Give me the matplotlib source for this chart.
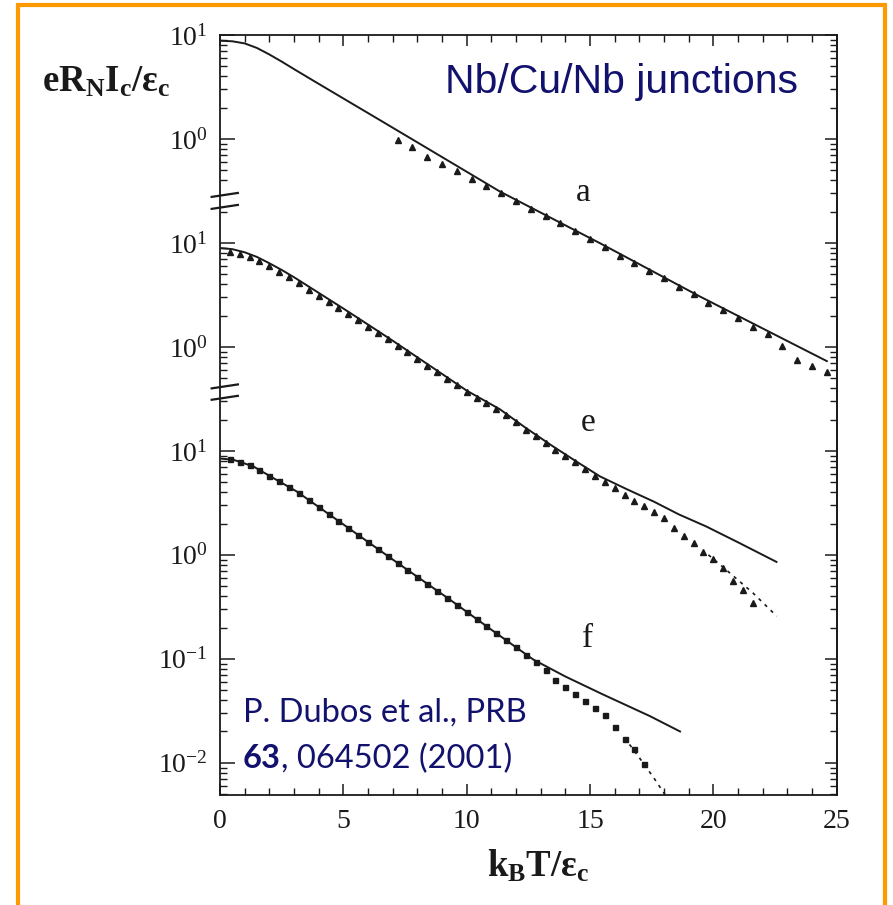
import matplotlib.pyplot as plt
import matplotlib.patches as patches
import matplotlib.transforms as transforms
from matplotlib.ticker import FixedLocator, MultipleLocator, LogLocator, NullFormatter
import numpy as np

plt.rcParams['font.family'] = 'Liberation Serif'
plt.rcParams['mathtext.fontset'] = 'custom'
plt.rcParams['mathtext.rm'] = 'Liberation Serif'
plt.rcParams['mathtext.it'] = 'Liberation Serif:italic'
plt.rcParams['mathtext.bf'] = 'Liberation Serif:bold'

# Curve a (shifted up by four decades)
a_theory_x = [0.07, 0.5, 1.0, 1.5, 2.0, 2.5, 3.0, 3.85, 5.2, 6.55, 8.18, 11.35, 15.4, 19.46, 24.6]
a_theory = [8.8, 8.7, 8.3, 7.5, 6.5, 5.55, 4.7, 3.56, 2.30, 1.486, 0.875, 0.312, 0.0995, 0.0305, 0.0073]
a_data_x = [7.2, 7.8, 8.4, 9.0, 9.6, 10.2, 10.8, 11.4, 12.0, 12.6, 13.2, 13.8, 14.4, 15.0, 15.6,
            16.2, 16.8, 17.4, 18.0, 18.6, 19.2, 19.8, 20.4, 21.0, 21.6, 22.2, 22.8, 23.4, 24.0, 24.6]
a_data = [0.98, 0.834, 0.672, 0.575, 0.488, 0.413, 0.350, 0.301, 0.255, 0.211, 0.182, 0.155, 0.131, 0.109, 0.091,
          0.0757, 0.064, 0.0543, 0.0459, 0.0381, 0.0322, 0.0267, 0.0224, 0.0189, 0.0157, 0.0134, 0.0103, 0.0075, 0.0066, 0.0057]

# Curve e (shifted up by two decades)
e_theory_x = [0.07, 0.5, 1.0, 1.5, 2.0, 2.5, 3.0, 4.0, 5.0, 6.0, 7.0, 8.0, 9.0, 10.0, 11.35, 12.4,
              13.5, 14.5, 15.4, 16.5, 17.6, 18.6, 19.7, 21.0, 22.56]
e_theory = [8.91, 8.71, 8.13, 7.33, 6.38, 5.50, 4.68, 3.31, 2.34, 1.64, 1.148, 0.794, 0.550, 0.380, 0.251, 0.166,
            0.1104, 0.0776, 0.0569, 0.0427, 0.0324, 0.0245, 0.0188, 0.0132, 0.00855]
e_data_x = [0.4, 0.8, 1.2, 1.6, 2.0, 2.4, 2.8, 3.2, 3.6, 4.0, 4.4, 4.8, 5.2, 5.6, 6.0, 6.4, 6.8, 7.2,
            7.6, 8.0, 8.4, 8.8, 9.2, 9.6, 10.0, 10.4, 10.8, 11.2, 11.6, 12.0, 12.4, 12.8, 13.2, 13.6,
            14.0, 14.4, 14.8, 15.2, 15.6, 16.0, 16.4, 16.8, 17.2, 17.6, 18.0, 18.4, 18.8, 19.2, 19.6,
            20.0, 20.4, 20.8, 21.2, 21.6]
e_data = [8.22, 7.80, 7.28, 6.65, 5.96, 5.28, 4.66, 4.09, 3.56, 3.12, 2.72, 2.38, 2.07, 1.80, 1.567, 1.365,
          1.183, 1.023, 0.885, 0.764, 0.661, 0.570, 0.493, 0.426, 0.367, 0.325, 0.287, 0.254, 0.220, 0.188,
          0.160, 0.138, 0.119, 0.103, 0.0891, 0.0776, 0.0668, 0.0575, 0.0501, 0.0437, 0.0380, 0.0331,
          0.0295, 0.0257, 0.0224, 0.0182, 0.0151, 0.0129, 0.0107, 0.00912, 0.00741, 0.00562, 0.00457, 0.00347]
e_fit_x = [19.8, 20.5, 21.6, 22.57]
e_fit = [0.0100, 0.00724, 0.00431, 0.00257]

# Curve f (true scale)
f_theory_x = [0.07, 0.54, 1.35, 2.16, 3.11, 5.0, 7.0, 9.32, 11.0, 12.7, 14.0, 15.5, 17.43, 18.65]
f_theory = [8.41, 8.22, 7.09, 5.48, 4.07, 1.963, 0.902, 0.371, 0.1905, 0.0984, 0.0676, 0.0457, 0.0281, 0.0200]
f_data_x = [0.4, 0.8, 1.2, 1.6, 2.0, 2.4, 2.8, 3.2, 3.6, 4.0, 4.4, 4.8, 5.2, 5.6, 6.0, 6.4, 6.8, 7.2,
            7.6, 8.0, 8.4, 8.8, 9.2, 9.6, 10.0, 10.4, 10.8, 11.2, 11.6, 12.0, 12.4, 12.8, 13.2, 13.6,
            14.0, 14.4, 14.8, 15.2, 15.6, 16.0, 16.4, 16.8, 17.2]
f_data = [8.28, 7.85, 7.33, 6.61, 5.78, 5.08, 4.49, 3.94, 3.37, 2.89, 2.48, 2.12, 1.816, 1.556, 1.330,
          1.140, 0.975, 0.836, 0.716, 0.614, 0.526, 0.452, 0.388, 0.333, 0.284, 0.243, 0.207, 0.177,
          0.151, 0.129, 0.110, 0.0933, 0.0776, 0.0631, 0.0537, 0.0457, 0.0394, 0.0339, 0.0285, 0.0219,
          0.0170, 0.0135, 0.00977]
f_fit_x = [16.4, 17.0, 17.6, 18.05]
f_fit = [0.0174, 0.0112, 0.00708, 0.0049]

a_shift = 1e4
e_shift = 1e2

# Left axis labels: each curve has its own decades
major_ticks = [1e5, 1e4, 1e3, 1e2, 1e1, 1e0, 1e-1, 1e-2]
major_labels = ['$10^{1}$', '$10^{0}$', '$10^{1}$', '$10^{0}$', '$10^{1}$', '$10^{0}$', '$10^{-1}$', '$10^{-2}$']

navy = '#12126e'
ink = '#1a1a1a'

fig = plt.figure(figsize=(8.93, 9.05), dpi=100)
ax = fig.add_axes([220 / 893, 1 - 795 / 905, 616.7 / 893, 760 / 905])

ax.plot(a_theory_x, np.array(a_theory) * a_shift, color=ink, lw=1.4)
ax.plot(a_data_x, np.array(a_data) * a_shift, ls='none', marker='^', ms=4.5, color=ink)
ax.plot(e_theory_x, np.array(e_theory) * e_shift, color=ink, lw=1.4)
ax.plot(e_data_x, np.array(e_data) * e_shift, ls='none', marker='^', ms=4.5, color=ink)
ax.plot(e_fit_x, np.array(e_fit) * e_shift, color=ink, lw=1.2, ls=(0, (2, 3)))
ax.plot(f_theory_x, f_theory, color=ink, lw=1.4)
ax.plot(f_data_x, f_data, ls='none', marker='s', ms=3.6, color=ink)
ax.plot(f_fit_x, f_fit, color=ink, lw=1.2, ls=(0, (2, 3)))

ax.set_yscale('log')
ax.set_xlim(0, 25)
ax.set_ylim(0.0049, 1e5)

# left ticks only inside each curve's range
minor_ticks = ([m * 1e4 for m in range(2, 10)] + [m * 1e3 for m in range(4, 10)] +
               [2e3] + [m * 1e2 for m in range(2, 10)] + [m * 1e1 for m in range(5, 10)] +
               [20, 30] + [m * 1.0 for m in range(2, 10)] + [m * 0.1 for m in range(2, 10)] +
               [m * 0.01 for m in range(2, 10)] + [m * 0.001 for m in range(5, 10)])
ax.yaxis.set_major_locator(FixedLocator(major_ticks))
ax.set_yticklabels(major_labels)
ax.yaxis.set_minor_locator(FixedLocator(minor_ticks))
ax.yaxis.set_minor_formatter(NullFormatter())
ax.xaxis.set_major_locator(MultipleLocator(5))
ax.xaxis.set_minor_locator(MultipleLocator(1))

ax.tick_params(axis='y', which='both', direction='in', left=True, right=False, colors=ink,
               labelsize=20, pad=9)
ax.tick_params(axis='y', which='major', length=10.5, width=1.1)
ax.tick_params(axis='y', which='minor', length=5, width=1.0)
ax.tick_params(axis='x', which='both', direction='in', top=True, bottom=True, colors=ink,
               labelsize=20, pad=10)
ax.tick_params(axis='x', which='major', length=8, width=1.1)
ax.tick_params(axis='x', which='minor', length=5, width=1.0)
for side in ax.spines.values():
    side.set_linewidth(1.3)
    side.set_color(ink)

# right axis: plain continuous log ticks
ax_r = ax.twinx()
ax_r.set_yscale('log')
ax_r.set_ylim(ax.get_ylim())
ax_r.yaxis.set_major_locator(LogLocator(base=10, numticks=20))
ax_r.yaxis.set_minor_locator(LogLocator(base=10, subs=np.arange(2, 10), numticks=20))
ax_r.yaxis.set_major_formatter(NullFormatter())
ax_r.yaxis.set_minor_formatter(NullFormatter())
ax_r.tick_params(axis='y', which='both', direction='in', colors=ink)
ax_r.tick_params(axis='y', which='major', length=8.5, width=1.1)
ax_r.tick_params(axis='y', which='minor', length=5, width=1.0)
for name in ['left', 'top', 'bottom']:
    ax_r.spines[name].set_visible(False)
ax_r.spines['right'].set_linewidth(1.3)
ax_r.spines['right'].set_color(ink)

# axis break marks on the left spine
brk = transforms.blended_transform_factory(ax.transAxes, ax.transData)
for centre in [2897, 2222, 41.7, 32.4]:
    ax.plot([-0.0135, 0.029], [centre * 10 ** -0.019, centre * 10 ** 0.019], transform=brk,
            color=ink, lw=1.6, clip_on=False)

# curve names
ax.text(14.72, 3030, 'a', fontsize=24, ha='center', va='center', color=ink)
ax.text(14.92, 18.7, 'e', fontsize=24, ha='center', va='center', color=ink)
ax.text(14.92, 0.157, 'f', fontsize=24, ha='center', va='center', color=ink)

fig.text(42 / 893, 1 - 92 / 905, r'$\mathbf{eR_NI_c/\varepsilon_c}$', fontsize=26.5,
         ha='left', va='baseline', color=ink)
fig.text(538 / 893, 1 - 877 / 905, r'$\mathbf{k_BT/\varepsilon_c}$', fontsize=26.5,
         ha='center', va='baseline', color=ink)

fig.text(445 / 893, 1 - 93 / 905, 'Nb/Cu/Nb junctions', family=['Liberation Sans Narrow', 'Liberation Sans'],
         fontsize=29.5, color=navy, ha='left', va='baseline')
fig.text(243 / 893, 1 - 722 / 905, 'P. Dubos et al., PRB', family='Lato', fontsize=23.5,
         color=navy, ha='left', va='baseline')
vol = fig.text(243 / 893, 1 - 768 / 905, '63', family='Lato', weight='bold', fontsize=23.5,
               color=navy, ha='left', va='baseline')
fig.canvas.draw()
vol_box = vol.get_window_extent(fig.canvas.get_renderer())
fig.text(vol_box.x1 / fig.bbox.width, 1 - 768 / 905, ', 064502 (2001)', family='Lato', fontsize=23.5,
         color=navy, ha='left', va='baseline')

# orange frame
frame = patches.Rectangle((18 / 893, -0.05), (885 - 18) / 893, 1.05 - 5 / 905, transform=fig.transFigure,
                          fill=False, ec='#ff9900', lw=3)
fig.patches.append(frame)

fig.savefig('out.png', dpi=100)
